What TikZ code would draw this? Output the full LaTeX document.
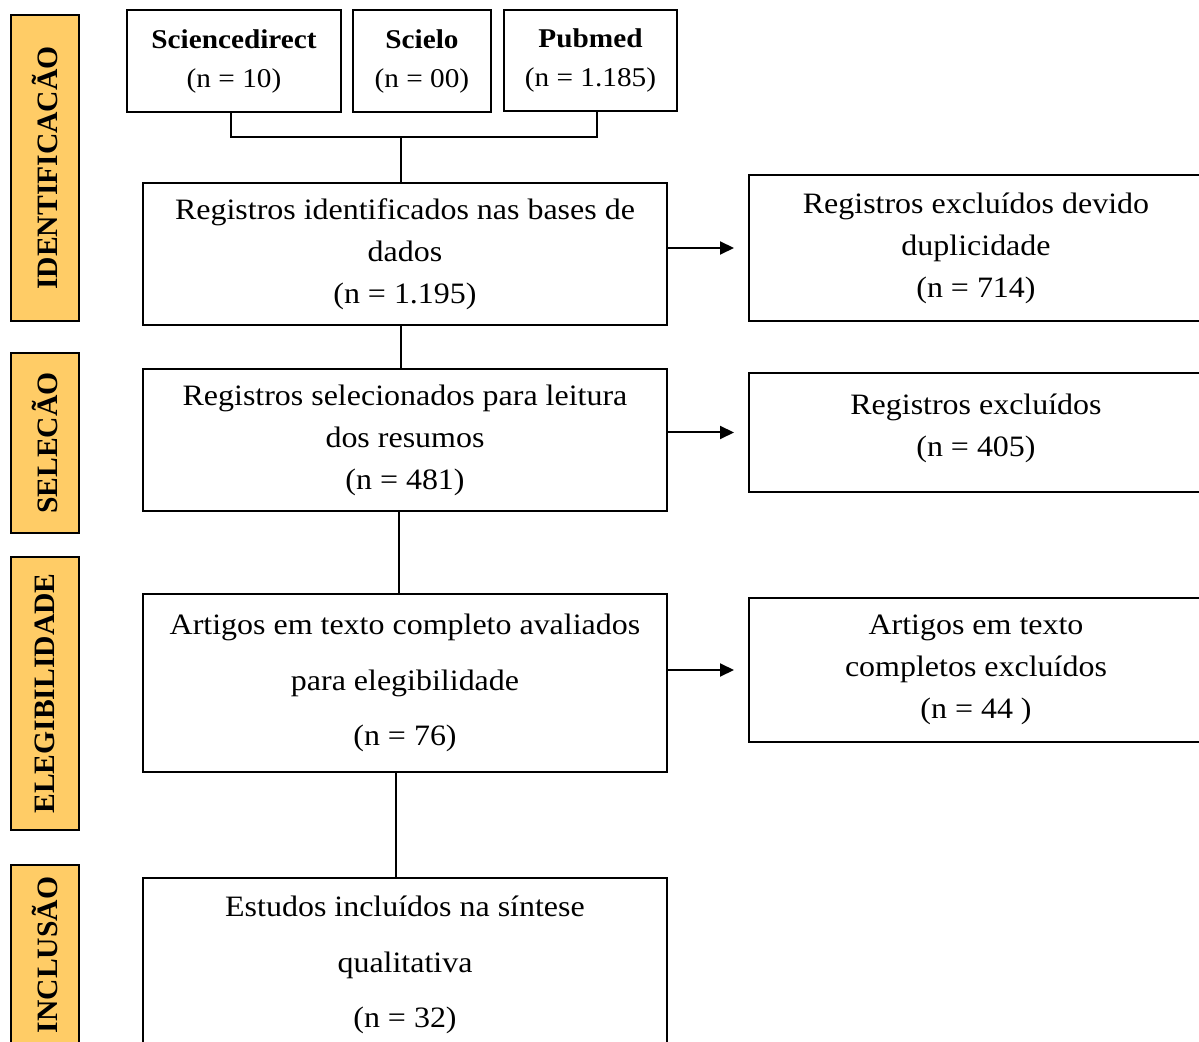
\documentclass[tikz,border=0pt]{standalone}
\usepackage{fontspec}
\setmainfont{Liberation Serif}[FakeStretch=1.08]
\newfontfamily\sidefont{Liberation Serif}
\usetikzlibrary{arrows.meta}
\definecolor{rotulo}{RGB}{255,204,102}

\begin{document}
\begin{tikzpicture}[x=0.5pt,y=-0.5pt,line width=1pt,
  caixa/.style={draw,align=center,inner sep=0pt,minimum width=262pt,font=\fontsize{14.8}{21}\selectfont},
  base/.style={draw,align=center,inner sep=0pt,minimum height=51pt,font=\fontsize{13.55}{19.5}\selectfont},
  excl/.style={caixa,minimum width=227pt},
  fase/.style={draw,fill=rotulo,rotate=90,inner sep=0pt,minimum height=34pt,font=\sidefont\bfseries\fontsize{14.8}{18}\selectfont},
  seta/.style={-{Triangle[length=7pt,width=6.5pt]},shorten >=7pt}]
\useasboundingbox (0,0) rectangle (1199,1042);

% fases
\node [fase,minimum width=153pt] (f1) at (45,168) {IDENTIFICACÃO};
\node [fase,minimum width=90pt] (f2) at (45,443) {SELECÃO};
\node [fase,minimum width=136.5pt] (f3) at (45,693.5) {ELEGIBILIDADE};
\node [fase,minimum width=90pt] (f4) at (45,955) {INCLUSÃO};

% bases
\node [base,minimum width=107pt] (sd) at (234,61) {\textbf{Sciencedirect}\\(n = 10)};
\node [base,minimum width=69pt] (sc) at (422,61) {\textbf{Scielo}\\(n = 00)};
\node [base,minimum width=86.5pt,minimum height=50.5pt] (pm) at (590.5,60.5) {\textbf{Pubmed}\\(n = 1.185)};

% fluxo
\node [caixa,minimum height=71pt] (a) at (405,254) {Registros identificados nas bases de\\dados\\(n = 1.195)};
\node [caixa,minimum height=71pt] (b) at (405,440) {Registros selecionados para leitura\\dos resumos\\(n = 481)};
\node [caixa,minimum height=89pt,font=\fontsize{14.8}{27.75}\selectfont] (c) at (405,683) {Artigos em texto completo avaliados\\para elegibilidade\\(n = 76)};
\node [caixa,minimum height=87pt,font=\fontsize{14.8}{27.75}\selectfont] (d) at (405,965) {Estudos incluídos na síntese\\qualitativa\\(n = 32)};

% excluidos
\node [excl,minimum height=73pt] (r1) at (976,248) {Registros excluídos devido\\duplicidade\\(n = 714)};
\node [excl,minimum height=59.5pt] (r2) at (976,432.5) {Registros excluídos\\(n = 405)\\[-13.5pt]\mbox{}};
\node [excl,minimum height=72pt] (r3) at (976,670) {Artigos em texto\\completos excluídos\\(n = 44 )};

% ligacoes
\path (a.north) ++(-4,-45) coordinate (j);
\draw ([xshift=-1.5pt]sd.south) |- (j) -| ([xshift=3.25pt]pm.south);
\draw (j) -- (j |- a.north);
\draw ([xshift=-2pt]a.south) -- ([xshift=-2pt]b.north);
\draw ([xshift=-3pt]b.south) -- ([xshift=-3pt]c.north);
\draw ([xshift=-4.5pt]c.south) -- ([xshift=-4.5pt]d.north);
\draw [seta] (r1.west -| a.east) -- (r1.west);
\draw [seta] (r2.west -| b.east) -- (r2.west);
\draw [seta] (r3.west -| c.east) -- (r3.west);
\end{tikzpicture}
\end{document}
